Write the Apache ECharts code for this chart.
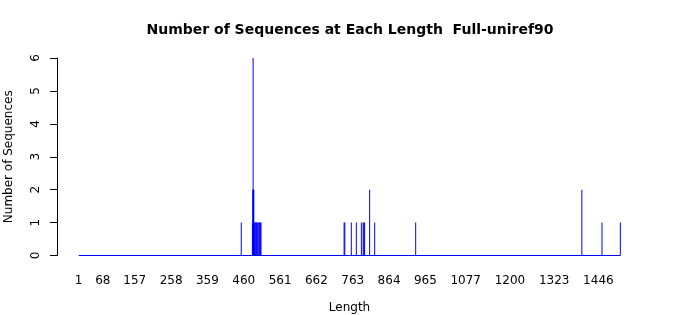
<!DOCTYPE html>
<html>
<head>
<meta charset="utf-8">
<script src="https://cdn.jsdelivr.net/npm/echarts@6/dist/echarts.min.js"></script>
<style>
html,body{margin:0;padding:0;background:#fff;}
#chart{width:700px;height:315px;}
</style>
</head>
<body>
<div id="chart"></div>
<script>
// Sequence lengths observed and their counts
const lengths = [453, 484, 485, 486, 487, 488, 489, 490, 492, 494, 496, 497, 499, 502, 503, 505, 506, 508,
                 739, 741, 759, 773, 787, 792, 794, 796, 810, 824, 938, 1400, 1456, 1507];
const counts  = [1, 1, 2, 6, 2, 2, 1, 1, 1, 1, 1, 1, 1, 1, 1, 1, 1, 1,
                 1, 1, 1, 1, 1, 1, 1, 1, 2, 1, 1, 2, 1, 1];
// Full length range of the plot
const lengthRange = [1, 1507];
// X tick labels
const xTicks = [1, 68, 157, 258, 359, 460, 561, 662, 763, 864, 965, 1077, 1200, 1323, 1446];
const yTicks = [0, 1, 2, 3, 4, 5, 6];

const span = lengthRange[1] - lengthRange[0];
const xMin = lengthRange[0] - 0.04 * span;
const xMax = lengthRange[1] + 0.04 * span;

const chart = echarts.init(document.getElementById('chart'), null, {renderer: 'canvas'});
const font = 'DejaVu Sans';
chart.setOption({
  animation: false,
  backgroundColor: '#fff',
  title: {
    text: 'Number of Sequences at Each Length  Full-uniref90',
    left: 'center',
    top: 18,
    textStyle: {fontFamily: font, fontSize: 14, fontWeight: 'bold', color: '#000'}
  },
  grid: {left: 57, right: 58, top: 58, bottom: 59.5, containLabel: false, outerBoundsMode: 'none'},
  xAxis: {
    type: 'value',
    min: xMin,
    max: xMax,
    name: 'Length',
    nameLocation: 'middle',
    nameGap: 46,
    nameTextStyle: {fontFamily: font, fontSize: 12, color: '#000'},
    axisLine: {show: false, onZero: false},
    axisTick: {show: false},
    splitLine: {show: false},
    axisLabel: {
      customValues: xTicks,
      margin: 19,
      fontFamily: font, fontSize: 12, color: '#000',
      formatter: v => String(v)
    }
  },
  yAxis: {
    type: 'value',
    min: yTicks[0],
    max: yTicks[yTicks.length - 1],
    interval: 1,
    name: 'Number of Sequences',
    nameLocation: 'middle',
    nameGap: 42,
    nameRotate: 90,
    nameTextStyle: {fontFamily: font, fontSize: 12, color: '#000'},
    axisLine: {show: true, onZero: false, lineStyle: {color: '#000', width: 1}},
    axisTick: {show: true, length: 7, lineStyle: {color: '#000', width: 1}},
    splitLine: {show: false},
    axisLabel: {rotate: 90, margin: 15, fontFamily: font, fontSize: 12, color: '#000'}
  },
  series: [
    {
      type: 'line',
      data: [[lengthRange[0], 0], [lengthRange[1], 0]],
      symbol: 'none',
      lineStyle: {color: '#0000ff', width: 1},
      z: 1
    },
    {
      type: 'bar',
      data: lengths.map((l, i) => [l, counts[i]]),
      barWidth: 0.6,
      itemStyle: {color: '#0000ff'},
      z: 2
    }
  ]
});
</script>
</body>
</html>
